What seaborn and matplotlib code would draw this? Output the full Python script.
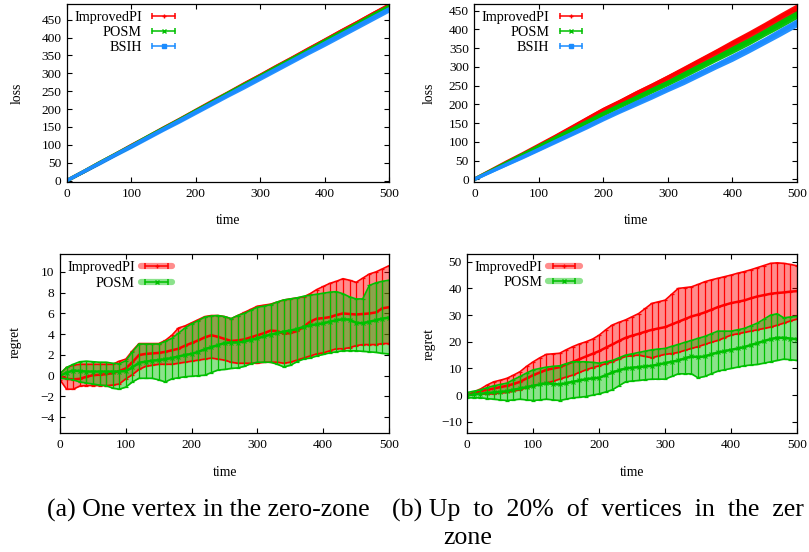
import numpy as np
import pandas as pd
import matplotlib
matplotlib.use("Agg")
import matplotlib.pyplot as plt
import seaborn as sns
from matplotlib.lines import Line2D
from matplotlib.legend_handler import HandlerLine2D

# ---------------- data ----------------
# top panels: time grid every 25 steps
t_loss = [0, 25, 50, 75, 100, 125, 150, 175, 200, 225, 250, 275, 300, 325, 350, 375, 400, 425, 450, 475, 500]

# (a) one vertex in the zero-zone : loss
a_loss_improvedpi = [0, 24, 49, 73, 98, 122, 147, 171, 196, 221, 245, 270, 294, 319, 343, 368, 392, 417, 441, 466, 490]
a_loss_posm       = [0, 24, 49, 73, 97, 122, 146, 170, 195, 219, 244, 268, 292, 317, 341, 365, 390, 414, 438, 463, 487]
a_loss_bsih       = [0, 24, 48, 72, 96, 120, 144, 168, 192, 216, 240, 264, 288, 312, 336, 360, 384, 408, 432, 456, 480]
a_err_improvedpi  = [1, 3, 4, 4, 5, 5, 5, 6, 6, 6, 6, 7, 7, 7, 7, 7, 8, 8, 8, 8, 8]
a_err_posm        = [1, 3, 4, 4, 5, 5, 5, 6, 6, 6, 6, 7, 7, 7, 7, 7, 8, 8, 8, 8, 8]
a_err_bsih        = [2, 4, 5, 5, 6, 6, 6, 7, 7, 7, 7, 8, 8, 8, 8, 8, 9, 9, 9, 9, 9]

# (b) up to 20% of vertices in the zero-zone : loss
b_loss_improvedpi = [0, 23, 46, 68, 91, 114, 138, 162, 186, 207, 229, 250, 272, 294, 317, 340, 363, 386, 410, 434, 458]
b_loss_posm       = [0, 22, 44, 66, 88, 110, 132, 154, 176, 197, 217, 238, 258, 280, 302, 324, 346, 368, 392, 416, 440]
b_loss_bsih       = [0, 20, 40, 60, 80, 101, 121, 142, 163, 183, 203, 222, 242, 262, 283, 304, 325, 347, 370, 394, 418]
b_err_improvedpi  = [1, 3, 4, 5, 5, 6, 6, 7, 7, 7, 8, 8, 8, 9, 9, 9, 10, 10, 10, 11, 11]
b_err_posm        = [1, 3, 4, 5, 5, 6, 6, 7, 7, 7, 8, 8, 8, 9, 9, 9, 10, 10, 10, 11, 11]
b_err_bsih        = [1, 3, 4, 5, 5, 6, 6, 7, 7, 7, 8, 8, 8, 9, 9, 9, 10, 10, 10, 11, 11]

# bottom panels: time grid every 10 steps
t_regret = list(range(0, 501, 10))

# (a) regret
a_reg_improvedpi = [0.0, -0.3, -0.35, -0.3, -0.1, 0.05, 0.1, 0.15, 0.25, 0.45,
                    0.7, 1.3, 2.0, 2.1, 2.15, 2.2, 2.3, 2.45, 2.6, 2.9,
                    3.15, 3.4, 3.7, 3.9, 3.75, 3.55, 3.35, 3.4, 3.5, 3.7,
                    3.9, 4.1, 4.35, 4.3, 4.05, 4.1, 4.3, 4.7, 5.2, 5.5,
                    5.55, 5.65, 5.85, 6.0, 5.95, 5.9, 5.95, 6.0, 6.1, 6.5, 6.6]
a_reg_improvedpi_hi = [0.2, 0.8, 1.0, 1.1, 1.1, 1.1, 1.1, 1.1, 1.1, 1.4,
                       1.6, 2.4, 3.1, 3.1, 3.1, 3.1, 3.4, 3.9, 4.6, 4.8,
                       5.1, 5.4, 5.7, 5.8, 5.8, 5.7, 5.5, 5.8, 6.1, 6.4,
                       6.7, 6.8, 6.9, 7.1, 7.3, 7.4, 7.5, 7.6, 7.9, 8.3,
                       8.6, 8.9, 9.1, 9.35, 9.2, 9.0, 9.4, 9.8, 10.0, 10.3, 10.6]
a_reg_improvedpi_lo = [-0.4, -1.3, -1.3, -1.0, -0.95, -0.95, -0.95, -0.95, -0.9, -0.8,
                       -0.3, 0.1, 0.6, 0.9, 1.0, 1.1, 1.1, 1.1, 1.2, 1.3,
                       1.4, 1.5, 1.6, 1.7, 1.6, 1.5, 1.3, 1.2, 1.2, 1.2,
                       1.2, 1.3, 1.3, 1.3, 1.2, 1.3, 1.5, 1.7, 1.9, 2.1,
                       2.2, 2.4, 2.6, 2.6, 2.7, 2.9, 3.0, 3.0, 3.0, 3.1, 3.1]
a_reg_posm = [0.0, 0.3, 0.5, 0.45, 0.4, 0.4, 0.4, 0.4, 0.4, 0.4,
              0.45, 0.8, 1.25, 1.35, 1.45, 1.5, 1.6, 1.7, 1.85, 2.0,
              2.1, 2.3, 2.55, 2.75, 2.95, 3.15, 3.2, 3.2, 3.3, 3.45,
              3.6, 3.8, 3.95, 4.1, 4.25, 4.35, 4.5, 4.7, 4.85, 4.95,
              5.05, 5.2, 5.35, 5.45, 5.4, 5.1, 5.05, 5.2, 5.35, 5.5, 5.6]
a_reg_posm_hi = [0.2, 0.8, 1.1, 1.35, 1.4, 1.35, 1.3, 1.3, 1.2, 1.15,
                 1.45, 2.3, 3.05, 3.05, 3.05, 3.05, 3.3, 3.6, 4.1, 4.6,
                 5.0, 5.3, 5.65, 5.75, 5.8, 5.7, 5.5, 5.8, 6.0, 6.3,
                 6.6, 6.7, 6.85, 7.1, 7.3, 7.4, 7.5, 7.65, 7.75, 7.85,
                 7.95, 8.05, 8.1, 7.9, 7.6, 7.4, 7.4, 8.7, 8.95, 9.1, 9.2]
a_reg_posm_lo = [-0.25, -0.3, -0.4, -0.6, -0.7, -0.8, -0.9, -0.95, -1.2, -1.3,
                 -1.1, -0.6, -0.25, -0.25, -0.25, -0.4, -0.6, -0.3, -0.2, -0.1,
                 -0.05, 0.0, 0.05, 0.3, 0.55, 0.6, 0.7, 0.75, 0.9, 1.15,
                 1.3, 1.3, 1.3, 1.1, 0.85, 1.0, 1.35, 1.6, 1.7, 1.9,
                 2.05, 2.2, 2.3, 2.4, 2.4, 2.4, 2.35, 2.3, 2.25, 2.15, 2.1]

# (b) regret
b_reg_improvedpi = [0.0, 0.8, 1.5, 2.0, 2.5, 3.0, 3.5, 4.2, 5.0, 6.3,
                    7.5, 8.5, 9.5, 10.0, 10.5, 11.5, 12.5, 13.5, 14.5, 15.5,
                    16.5, 17.8, 19.0, 20.3, 21.5, 22.3, 23.0, 23.8, 24.5, 25.0,
                    25.5, 26.5, 27.5, 28.5, 29.5, 30.2, 31.0, 32.0, 33.0, 33.8,
                    34.5, 35.0, 35.5, 36.3, 37.0, 37.5, 38.0, 38.3, 38.5, 38.8, 39.0]
b_reg_improvedpi_hi = [0.0, 1.2, 2.3, 3.8, 5.0, 5.6, 6.3, 7.5, 8.8, 10.8,
                       12.5, 14.0, 15.3, 15.5, 15.7, 17.0, 18.2, 19.2, 20.0, 21.0,
                       22.5, 24.5, 26.3, 27.3, 28.2, 29.4, 30.6, 32.5, 34.4, 35.0,
                       35.6, 37.8, 40.0, 40.3, 40.6, 41.5, 42.5, 43.2, 43.8, 44.4,
                       45.0, 45.7, 46.3, 47.0, 47.8, 48.6, 49.4, 49.6, 49.4, 49.0, 48.5]
b_reg_improvedpi_lo = [0.0, 0.3, 0.5, 0.4, 0.5, 0.8, 1.0, 1.5, 2.0, 2.8,
                       3.5, 4.0, 4.5, 5.2, 6.0, 6.8, 7.5, 8.5, 9.5, 10.3,
                       11.0, 11.8, 12.5, 13.5, 14.5, 14.8, 15.0, 14.5, 14.0, 14.7,
                       15.3, 15.6, 16.0, 16.8, 17.5, 18.2, 19.0, 19.8, 20.5, 21.5,
                       22.5, 23.0, 23.5, 24.0, 24.5, 25.0, 25.5, 26.2, 27.0, 27.8, 28.5]
b_reg_posm = [0.0, 0.3, 0.5, 0.8, 1.0, 1.2, 1.5, 2.0, 2.5, 3.0,
              3.5, 4.0, 4.5, 4.2, 4.0, 4.5, 5.0, 5.5, 6.0, 6.3,
              6.5, 7.5, 8.5, 9.3, 10.0, 10.3, 10.5, 10.8, 11.0, 11.5,
              12.0, 12.5, 13.0, 13.8, 14.5, 14.3, 14.5, 15.3, 16.0, 16.5,
              17.0, 17.5, 18.0, 18.8, 19.5, 20.3, 21.0, 21.5, 21.5, 21.2, 21.0]
b_reg_posm_hi = [1.0, 1.5, 2.0, 2.8, 3.5, 4.0, 4.5, 5.8, 7.0, 8.3,
                 9.5, 10.0, 10.5, 10.8, 11.0, 11.8, 12.5, 12.5, 12.5, 12.3,
                 12.0, 12.5, 13.0, 14.0, 15.0, 15.5, 16.0, 16.5, 17.0, 17.3,
                 17.5, 18.3, 19.0, 19.8, 20.5, 21.3, 22.0, 23.0, 24.0, 24.0,
                 24.0, 24.5, 25.0, 26.0, 27.0, 28.5, 30.0, 30.5, 29.0, 29.3, 29.5]
b_reg_posm_lo = [-1.0, -1.0, -1.0, -1.3, -1.5, -1.8, -2.0, -1.8, -1.5, -1.8,
                 -2.0, -1.8, -1.5, -1.8, -2.0, -1.5, -1.0, -0.8, -0.5, 0.0,
                 0.5, 1.2, 2.0, 3.5, 5.0, 5.3, 5.5, 5.8, 6.0, 6.0,
                 6.0, 7.0, 8.0, 8.0, 8.0, 6.5, 7.0, 8.0, 9.0, 9.5,
                 10.0, 10.5, 11.0, 11.3, 11.5, 12.0, 12.5, 13.0, 13.5, 13.3, 13.0]

x_ticks = [0, 100, 200, 300, 400, 500]
a_loss_yticks = [0, 50, 100, 150, 200, 250, 300, 350, 400, 450]
b_loss_yticks = [0, 50, 100, 150, 200, 250, 300, 350, 400, 450]
a_reg_yticks = [-4, -2, 0, 2, 4, 6, 8, 10]
b_reg_yticks = [-10, 0, 10, 20, 30, 40, 50]

captions = ["(a) One vertex in the zero-zone",
            "(b) Up  to  20%  of  vertices  in  the  zer",
            "zone"]

# ---------------- style ----------------
sns.set_theme(style="ticks")
plt.rcParams['font.family'] = ['Liberation Serif', 'DejaVu Serif']
plt.rcParams['axes.edgecolor'] = 'black'
plt.rcParams['axes.linewidth'] = 0.9
plt.rcParams['xtick.color'] = 'black'
plt.rcParams['ytick.color'] = 'black'
plt.rcParams['xtick.labelcolor'] = 'black'
plt.rcParams['ytick.labelcolor'] = 'black'
plt.rcParams['text.color'] = 'black'
plt.rcParams['axes.labelcolor'] = 'black'
plt.rcParams['legend.labelcolor'] = 'black'

RED = '#ff0000'
GREEN = '#00c000'
BLUE = '#1a8cff'
TICK_FS = 9.6
LEG_FS = 10.2
LAB_FS = 9.8

fig = plt.figure(figsize=(8.09, 5.52), dpi=100)
ax_tl = fig.add_axes([0.0828, 0.6703, 0.3980, 0.3225])
ax_tr = fig.add_axes([0.5863, 0.6703, 0.3989, 0.3225])
ax_bl = fig.add_axes([0.0742, 0.2150, 0.4067, 0.3243])
ax_br = fig.add_axes([0.5776, 0.2150, 0.4075, 0.3248])


def style_axes(ax, yticks, ylim, ylabel, ylabel_x, xlabel_y, ylabel_y=0.5):
    ax.set_xlim(0, 500)
    ax.set_ylim(*ylim)
    ax.set_xticks(x_ticks)
    ax.set_yticks(yticks)
    ax.tick_params(direction='in', top=True, right=True, length=3.5, width=0.8,
                   labelsize=TICK_FS, pad=4, labelcolor='black')
    for s in ax.spines.values():
        s.set_visible(True)
        s.set_color('black')
        s.set_linewidth(0.9)
    ax.set_xlabel('time', fontsize=LAB_FS, color='black')
    ax.set_ylabel(ylabel, fontsize=LAB_FS, color='black')
    ax.xaxis.set_label_coords(0.5, xlabel_y)
    ax.yaxis.set_label_coords(ylabel_x, ylabel_y)


def make_legend(ax, entries, band=False):
    handles, labels, hmap = [], [], {}
    for name, color, marker in entries:
        parts = []
        if band:
            light = Line2D([], [], color=color, lw=4.5, alpha=0.45)
            parts.append(light)
        caps = Line2D([], [], color=color, lw=1.1, marker='|', ms=5, mew=1.1)
        mid = Line2D([], [], color=color, lw=0, marker=marker, ms=3.5, mew=1.0)
        hmap[caps] = HandlerLine2D(numpoints=2)
        hmap[mid] = HandlerLine2D(numpoints=1)
        parts += [caps, mid]
        handles.append(tuple(parts))
        labels.append(name)
    ax.legend(handles, labels, handler_map=hmap, loc='upper left',
              bbox_to_anchor=(0.0, 1.0), frameon=False, markerfirst=False,
              fontsize=LEG_FS, handlelength=2.2, handletextpad=0.45,
              labelspacing=0.15, borderaxespad=0.2, borderpad=0.3,
              labelcolor='black')


def loss_panel(ax, series):
    for name, mean, err, color, marker in series:
        m = np.asarray(mean, float)
        e = np.asarray(err, float)
        ax.fill_between(t_loss, m - e, m + e, color=color, alpha=0.95, lw=0)
        df = pd.DataFrame({'time': t_loss, 'loss': m})
        sns.lineplot(data=df, x='time', y='loss', ax=ax, color=color, lw=2.6,
                     errorbar=None, legend=False)


def regret_panel(ax, series):
    for name, mean, lo, hi, color, marker in series:
        m = np.asarray(mean, float)
        lo = np.asarray(lo, float)
        hi = np.asarray(hi, float)
        ax.fill_between(t_regret, lo, hi, color=color, alpha=0.45, lw=0)
        ax.errorbar(t_regret, m, yerr=[m - lo, hi - m], fmt='none', ecolor=color,
                    elinewidth=0.9, capsize=1.6, capthick=0.9)
        ax.plot(t_regret, hi, color=color, lw=1.2)
        ax.plot(t_regret, lo, color=color, lw=1.2)
        df = pd.DataFrame({'time': t_regret, 'regret': m})
        sns.lineplot(data=df, x='time', y='regret', ax=ax, color=color, lw=1.8,
                     marker=marker, markersize=3, markeredgewidth=0.8,
                     markeredgecolor=color, errorbar=None, legend=False)


loss_panel(ax_tl, [('ImprovedPI', a_loss_improvedpi, a_err_improvedpi, RED, '+'),
                   ('POSM', a_loss_posm, a_err_posm, GREEN, 'x'),
                   ('BSIH', a_loss_bsih, a_err_bsih, BLUE, 's')])
loss_panel(ax_tr, [('ImprovedPI', b_loss_improvedpi, b_err_improvedpi, RED, '+'),
                   ('POSM', b_loss_posm, b_err_posm, GREEN, 'x'),
                   ('BSIH', b_loss_bsih, b_err_bsih, BLUE, 's')])
regret_panel(ax_bl, [('ImprovedPI', a_reg_improvedpi, a_reg_improvedpi_lo, a_reg_improvedpi_hi, RED, '+'),
                     ('POSM', a_reg_posm, a_reg_posm_lo, a_reg_posm_hi, GREEN, 'x')])
regret_panel(ax_br, [('ImprovedPI', b_reg_improvedpi, b_reg_improvedpi_lo, b_reg_improvedpi_hi, RED, '+'),
                     ('POSM', b_reg_posm, b_reg_posm_lo, b_reg_posm_hi, GREEN, 'x')])

style_axes(ax_tl, a_loss_yticks, (-4, 494), 'loss', -0.133, -0.18)
style_axes(ax_tr, b_loss_yticks, (-7, 468), 'loss', -0.120, -0.18)
style_axes(ax_bl, a_reg_yticks, (-5.55, 11.7), 'regret', -0.117, -0.183, 0.51)
style_axes(ax_br, b_reg_yticks, (-14.3, 52.9), 'regret', -0.097, -0.183)

make_legend(ax_tl, [('ImprovedPI', RED, '+'), ('POSM', GREEN, 'x'), ('BSIH', BLUE, 's')])
make_legend(ax_tr, [('ImprovedPI', RED, '+'), ('POSM', GREEN, 'x'), ('BSIH', BLUE, 's')])
make_legend(ax_bl, [('ImprovedPI', RED, '+'), ('POSM', GREEN, 'x')], band=True)
make_legend(ax_br, [('ImprovedPI', RED, '+'), ('POSM', GREEN, 'x')], band=True)

CFS = 18.6
fig.text(47 / 809, 1 - 510 / 552, captions[0], fontsize=CFS, ha='left', va='center', color='black')
fig.text(392 / 809, 1 - 510 / 552, captions[1], fontsize=CFS, ha='left', va='center', color='black')
fig.text(443 / 809, 1 - 538 / 552, captions[2], fontsize=CFS, ha='left', va='center', color='black')

fig.savefig('out.png', dpi=100)
